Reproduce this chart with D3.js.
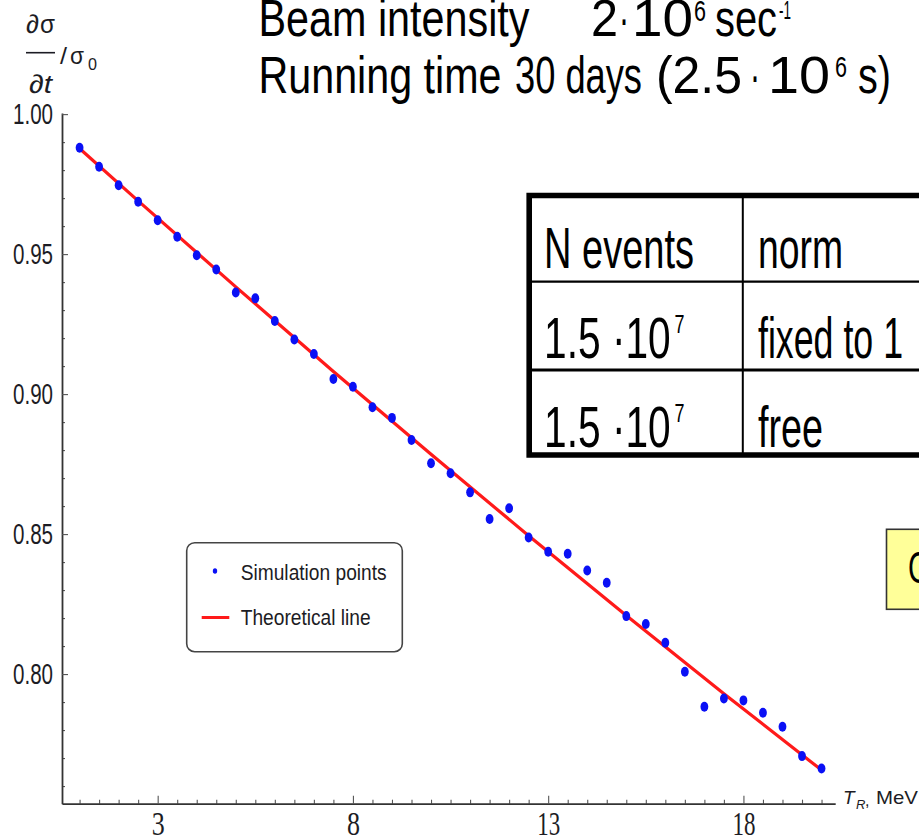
<!DOCTYPE html>
<html>
<head>
<meta charset="utf-8">
<script src="https://cdn.jsdelivr.net/npm/d3@7"></script>
<style>
  body { margin: 0; background: #fff; overflow: hidden; }
  svg { display: block; }
</style>
</head>
<body>
<div id="chart"></div>
<script>
// Data
const xVals = [1, 1.5, 2, 2.5, 3, 3.5, 4, 4.5, 5, 5.5, 6, 6.5, 7, 7.5, 8, 8.5, 9, 9.5, 10, 10.5,
               11, 11.5, 12, 12.5, 13, 13.5, 14, 14.5, 15, 15.5, 16, 16.5, 17, 17.5, 18, 18.5, 19, 19.5, 20];
const simVals = [0.9880, 0.9812, 0.9746, 0.9687, 0.9621, 0.9562, 0.9496, 0.9445, 0.9363, 0.9342,
                 0.9261, 0.9195, 0.9143, 0.9054, 0.9026, 0.8953, 0.8915, 0.8836, 0.8753, 0.8717,
                 0.8649, 0.8554, 0.8592, 0.8488, 0.8437, 0.8430, 0.8370, 0.8326, 0.8207, 0.8179,
                 0.8112, 0.8008, 0.7883, 0.7913, 0.7906, 0.7862, 0.7812, 0.7707, 0.7663];
const theoX = [1, 2.5, 5, 7.5, 10, 12.5, 15, 17.5, 20];
const theoY = [0.9877, 0.9690, 0.9383, 0.9081, 0.8785, 0.8494, 0.8209, 0.7930, 0.7657];

const xMajorTicks = [3, 8, 13, 18];
const yMajorTicks = [0.80, 0.85, 0.90, 0.95, 1.00];
const legendLabels = ["Simulation points", "Theoretical line"];
const tableRows = [["N events", "", "norm"], ["1.5 \u00b710", "7", "fixed to 1"], ["1.5 \u00b710", "7", "free"]];

const width = 919, height = 838;
const svg = d3.select("#chart").append("svg")
    .attr("width", width).attr("height", height)
    .attr("viewBox", "0 0 " + width + " " + height);

const x = d3.scaleLinear().domain([0.55, 20.35]).range([62, 835.2]);
const y = d3.scaleLinear().domain([0.7537, 1.0004]).range([803.7, 113]);

const SANS = "'Liberation Sans', Arial, sans-serif";
const SERIF = "'Liberation Serif', 'Times New Roman', serif";
const ink = "#1c1c24";

// text helper: squeezed text to a measured width
function txt(g, s, px, py, size, len, opt) {
    opt = opt || {};
    const t = g.append("text")
        .attr("x", px).attr("y", py)
        .attr("font-size", size)
        .attr("font-family", opt.family || SANS)
        .attr("fill", opt.fill || "#000")
        .text(s);
    if (opt.italic) t.attr("font-style", "italic");
    if (opt.anchor) t.attr("text-anchor", opt.anchor);
    if (len) t.attr("textLength", len).attr("lengthAdjust", "spacingAndGlyphs");
    return t;
}

// ---- axes
const xMinor = d3.range(1, 20.01, 0.5).filter(v => xMajorTicks.indexOf(v) < 0);
const yMinor = d3.range(76, 100).map(v => v / 100).filter(v => yMajorTicks.indexOf(v) < 0);

const gxMinor = svg.append("g")
    .attr("transform", "translate(0," + y.range()[0] + ")")
    .call(d3.axisBottom(x).tickValues(xMinor).tickSize(-4).tickSizeOuter(0).tickFormat(""));
gxMinor.select(".domain").remove();

const gx = svg.append("g")
    .attr("transform", "translate(0," + y.range()[0] + ")")
    .call(d3.axisBottom(x).tickValues(xMajorTicks).tickSize(-8).tickSizeOuter(0).tickFormat(d3.format("d")));
gx.selectAll(".tick text")
    .attr("y", 31).attr("dy", 0)
    .attr("font-size", 34)
    .attr("font-family", SERIF)
    .attr("fill", ink)
    .attr("textLength", d => d >= 10 ? 23 : 13)
    .attr("lengthAdjust", "spacingAndGlyphs");

const gyMinor = svg.append("g")
    .attr("transform", "translate(" + x.range()[0] + ",0)")
    .call(d3.axisLeft(y).tickValues(yMinor).tickSize(-3).tickSizeOuter(0).tickFormat(""));
gyMinor.select(".domain").remove();

const gy = svg.append("g")
    .attr("transform", "translate(" + x.range()[0] + ",0)")
    .call(d3.axisLeft(y).tickValues(yMajorTicks).tickSize(-6).tickPadding(9).tickSizeOuter(0).tickFormat(d3.format(".2f")));
gy.selectAll(".tick text")
    .attr("font-size", 29)
    .attr("font-family", SANS)
    .attr("fill", ink)
    .attr("textLength", 40)
    .attr("lengthAdjust", "spacingAndGlyphs");

svg.selectAll(".domain").attr("stroke", "#333").attr("stroke-width", 1.8);
svg.selectAll(".tick line").attr("stroke", "#555").attr("stroke-width", 1.1);

// x axis label T_R, MeV
const xl = svg.append("g");
txt(xl, "T", 843, 804, 19, null, {italic: true, fill: ink});
txt(xl, "R", 856, 809, 13, null, {italic: true, fill: ink});
txt(xl, ",", 865, 806, 16, null, {fill: ink});
txt(xl, "MeV", 876, 804, 19, 42, {fill: ink});

// y axis label  (d sigma / dt) / sigma_0
const yl = svg.append("g");
txt(yl, "\u2202", 26, 33, 26, 13, {italic: true, fill: ink});
txt(yl, "\u03c3", 40, 33, 26, 15, {fill: ink});
yl.append("line").attr("x1", 26).attr("x2", 55).attr("y1", 52.7).attr("y2", 52.7)
    .attr("stroke", ink).attr("stroke-width", 1.6);
txt(yl, "/", 60, 64, 24, 7, {fill: ink});
txt(yl, "\u03c3", 70, 63.5, 24, 14, {fill: ink});
txt(yl, "0", 88, 70, 17, 9, {fill: ink});
txt(yl, "\u2202t", 29, 93, 26, 23, {italic: true, fill: ink});

// ---- theoretical line and points
const line = d3.line()
    .x(d => x(d[0])).y(d => y(d[1]))
    .curve(d3.curveMonotoneX);
svg.append("path")
    .datum(d3.zip(theoX, theoY))
    .attr("d", line)
    .attr("fill", "none")
    .attr("stroke", "#ff1a1a")
    .attr("stroke-width", 3.2);

svg.append("g").selectAll("ellipse")
    .data(d3.zip(xVals, simVals))
    .enter().append("ellipse")
    .attr("cx", d => x(d[0]))
    .attr("cy", d => y(d[1]))
    .attr("rx", 3.9).attr("ry", 5)
    .attr("fill", "#0a10f5");

// ---- legend
const lg = svg.append("g");
lg.append("rect")
    .attr("x", 186.7).attr("y", 542.7).attr("width", 215.6).attr("height", 109)
    .attr("rx", 8).attr("fill", "#fff").attr("stroke", "#444").attr("stroke-width", 1.6);
lg.append("ellipse").attr("cx", 215).attr("cy", 571).attr("rx", 2.2).attr("ry", 2.8).attr("fill", "#0a10f5");
lg.append("line").attr("x1", 201.7).attr("x2", 229.3).attr("y1", 617.5).attr("y2", 617.5)
    .attr("stroke", "#ff1a1a").attr("stroke-width", 3);
txt(lg, legendLabels[0], 240.7, 580, 22, 146, {fill: ink});
txt(lg, legendLabels[1], 240.7, 625, 22, 130, {fill: ink});

// ---- header text, pieces placed where they sit in the slide
const hd = svg.append("g");
const big = 52, sup = 30;
txt(hd, "Beam intensity", 258.5, 36, big, 271);
txt(hd, "2", 591, 36, big, 27);
txt(hd, "\u00b7", 619, 36, big, 10);
txt(hd, "10", 632, 36, big, 61);
txt(hd, "6", 694, 21, sup, 12);
txt(hd, "sec", 715, 36, big, 62);
txt(hd, "-1", 779, 19, 26, 12);

txt(hd, "Running time", 258.5, 93, big, 243);
txt(hd, "30 days", 515, 93, big, 127);
txt(hd, "(2.5", 656, 93, big, 86);
txt(hd, "\u00b7", 750, 93, big, 10);
txt(hd, "10", 768, 93, big, 62);
txt(hd, "6", 835, 77, sup, 12);
txt(hd, "s)", 858, 93, big, 33);

// ---- table
const tb = svg.append("g");
tb.append("line").attr("x1", 529).attr("x2", 960).attr("y1", 281.7).attr("y2", 281.7)
    .attr("stroke", "#000").attr("stroke-width", 2.2);
tb.append("line").attr("x1", 529).attr("x2", 960).attr("y1", 370).attr("y2", 370)
    .attr("stroke", "#000").attr("stroke-width", 3.2);
tb.append("line").attr("x1", 742.8).attr("x2", 742.8).attr("y1", 195).attr("y2", 455)
    .attr("stroke", "#000").attr("stroke-width", 2);
tb.append("path")
    .attr("d", "M960,195.5H529.2V455H960")
    .attr("fill", "none").attr("stroke", "#000").attr("stroke-width", 5.6);

const rowBase = [268, 358, 447];
const col1Len = [150, 126.7, 126.7];
const col2Len = [85, 145, 65];
tableRows.forEach((r, i) => {
    txt(tb, r[0], 544, rowBase[i], 58, col1Len[i]);
    if (r[1]) txt(tb, r[1], 674.5, rowBase[i] - 25, 25, 10);
    txt(tb, r[2], 758, rowBase[i], 58, col2Len[i]);
});

// ---- yellow note box (cut off at right edge)
const nb = svg.append("g");
nb.append("rect").attr("x", 886.5).attr("y", 529.3).attr("width", 100).attr("height", 80)
    .attr("fill", "#ffff99").attr("stroke", "#333").attr("stroke-width", 1.6);
txt(nb, "C", 908, 583.3, 44, 21);
</script>
</body>
</html>
